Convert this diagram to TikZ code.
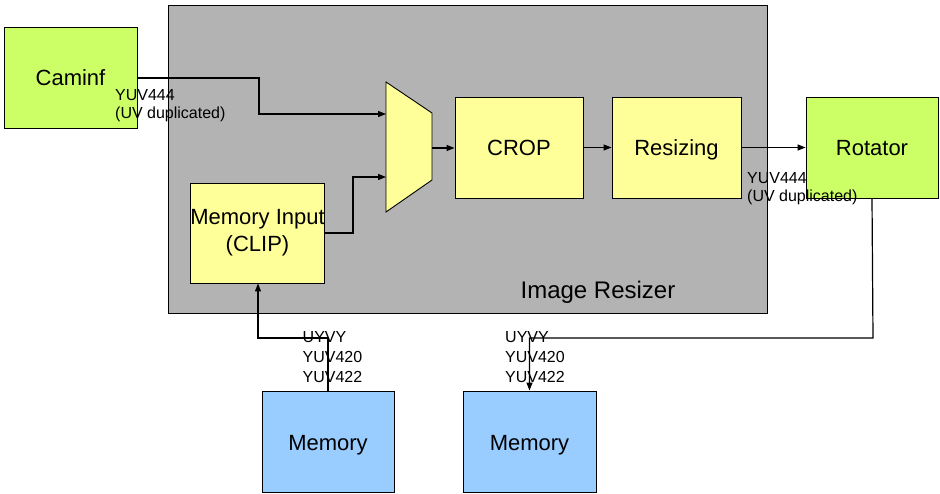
\documentclass[tikz,border=0pt]{standalone}
\usepackage{fontspec}
\setmainfont{Liberation Sans}
\usetikzlibrary{arrows.meta}
\definecolor{grayfill}{HTML}{B3B3B3}
\definecolor{yel}{HTML}{FFFF99}
\definecolor{grn}{HTML}{CCFF66}
\definecolor{blu}{HTML}{99CCFF}
\tikzset{
  blk/.style={draw=black, line width=0.9pt, inner sep=0pt, align=center, font=\fontsize{22}{26}\selectfont},
  one/.style={text height=21pt, text depth=4pt},
  yblk/.style={blk, fill=yel},
  gblk/.style={blk, fill=grn},
  bblk/.style={blk, fill=blu},
  lbl/.style={inner sep=0pt, anchor=north west, align=left, font=\fontsize{16}{17.5}\selectfont},
  lblb/.style={lbl, font=\fontsize{16}{19.8}\selectfont},
  conn/.style={line width=1.1pt, -{Triangle[length=8pt,width=6pt]}},
}
\begin{document}
\begin{tikzpicture}[x=1pt,y=-1pt]
\useasboundingbox (0,0) rectangle (940,494);
% Image Resizer container
\node[draw=black, line width=0.9pt, fill=grayfill, inner sep=0pt, minimum width=599pt, minimum height=308pt] (resizer) at (467.5,159) {};
\node[font=\fontsize{24}{28}\selectfont, inner sep=0pt, anchor=base] (resizerlbl) at (598,298.3) {Image Resizer};
% blocks
\node[gblk, one, minimum width=133pt, minimum height=101pt] (caminf) at (70.5,77.5) {Caminf};
\node[yblk, one, minimum width=128pt, minimum height=101pt] (crop) at (519,147.5) {CROP};
\node[yblk, one, minimum width=129pt, minimum height=101pt] (resz) at (676.5,147.5) {Resizing};
\node[gblk, one, minimum width=132pt, minimum height=101pt] (rot) at (872,147.5) {Rotator};
\node[yblk, minimum width=133pt, minimum height=100pt, font=\fontsize{22}{27}\selectfont] (memin) at (257.5,233) {\raisebox{-2.5pt}{Memory Input}\\\raisebox{-2.5pt}{(CLIP)}};
\node[bblk, one, minimum width=132pt, minimum height=101pt] (mem1) at (328,441.5) {Memory};
\node[bblk, one, minimum width=133pt, minimum height=101pt] (mem2) at (529.5,441.5) {Memory};
% mux
\draw[fill=yel, line width=0.9pt] (386,82) -- (432,113) -- (432,180) -- (386,212) -- cycle;
\coordinate (muxin1) at (386,114);
\coordinate (muxin2) at (386,177);
\coordinate (muxout) at (432,148);
% connectors
\draw[conn] (caminf.east |- 0,78) -| (259,96) |- (muxin1);
\draw[conn] (memin.east |- 0,233) -| (353,205) |- (muxin2);
\draw[conn] (muxout) -- (crop.west |- muxout);
\draw[conn] (crop.east) -- (resz.west);
\draw[conn, line width=1.4pt] (resz.east) -- (rot.west);
\draw[conn, line width=1.2pt] (rot.south) -- (873,338) -| (mem2.north);
\draw[conn] (mem1.north) |- (258,338) -- (memin.south -| 258,0);
% labels
\node[lbl] (l1) at (115,89.5) {YUV444\\(UV duplicated)};
\node[lbl] (l2) at (747,172.5) {YUV444\\(UV duplicated)};
\node[lblb] (l3) at (302.5,331.5) {UYVY\\YUV420\\YUV422};
\node[lblb] (l4) at (505,331.5) {UYVY\\YUV420\\YUV422};
\end{tikzpicture}
\end{document}
